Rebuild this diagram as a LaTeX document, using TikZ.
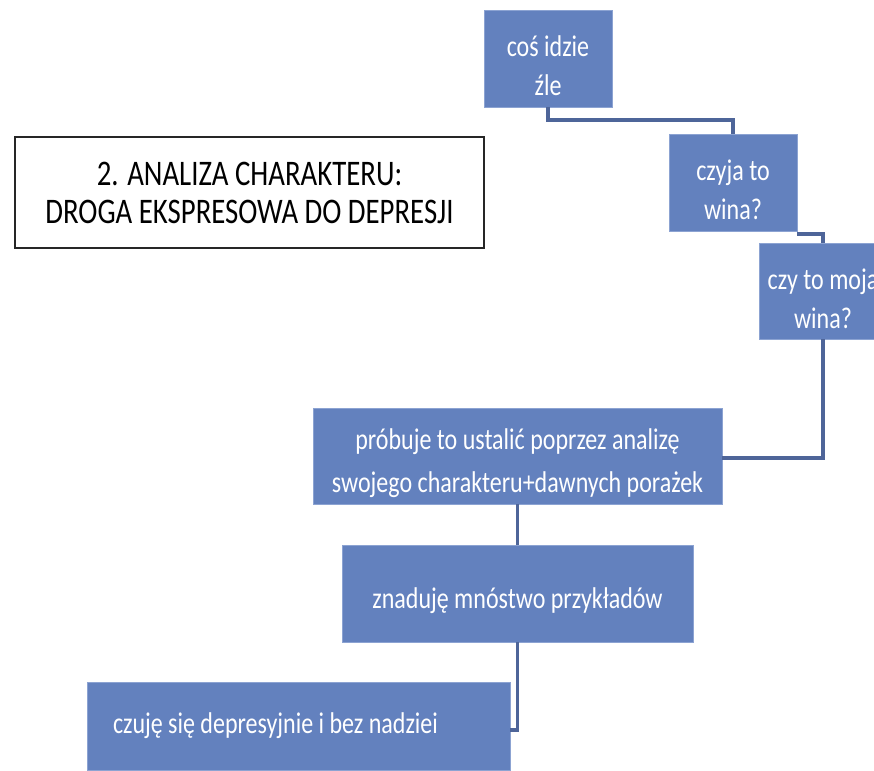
\documentclass[tikz,border=0pt]{standalone}
\usepackage{fontspec}
\newfontfamily\handfont[FakeStretch=0.8]{Carlito}
\definecolor{boxblue}{HTML}{6381BE}
\definecolor{boxedge}{HTML}{8CA3D2}
\definecolor{linkblue}{HTML}{4E6599}
% taller first line: sets a step's text a little below the box centre
\newcommand\lowerstrut{\rule{0pt}{36pt}}
\tikzset{
  stepbox/.style={rectangle, fill=boxblue, draw=boxedge, line width=0.8pt,
    inner sep=0pt, outer sep=0pt, text=white, align=center,
    font=\handfont\fontsize{30}{39}\selectfont},
  titlebox/.style={rectangle, draw=black!85, line width=1.4pt, fill=white,
    inner sep=0pt, outer sep=0pt, align=center,
    font=\handfont\fontsize{36}{38}\selectfont},
  link/.style={draw=linkblue, line width=3.6pt}
}
\begin{document}
\begin{tikzpicture}[x=1pt, y=-1pt]
  \useasboundingbox (0,0) rectangle (874,770);
  \clip (0,0) rectangle (874,770);

  % title
  \node[titlebox, minimum width=469, minimum height=111] (title) at (249.5,192.5)
    {2. ANALIZA CHARAKTERU:\\DROGA EKSPRESOWA DO DEPRESJI};

  % chain of steps
  \node[stepbox, minimum width=128, minimum height=97] (s1) at (548,58.5)
    {\lowerstrut coś idzie\\źle};
  \node[stepbox, minimum width=128, minimum height=97] (s2) at (733,182.5)
    {\lowerstrut czyja to\\wina?};
  \node[stepbox, minimum width=128, minimum height=96] (s3) at (823,291)
    {\lowerstrut czy to moja\\wina?};
  \node[stepbox, minimum width=409, minimum height=96,
        font=\handfont\fontsize{30}{43}\selectfont] (s4) at (517.5,456)
    {\lowerstrut próbuje to ustalić poprzez analizę\\swojego charakteru+dawnych porażek};
  \node[stepbox, minimum width=351, minimum height=97] (s5) at (517.5,593.5)
    {\lowerstrut znaduję mnóstwo przykładów};
  \node[stepbox, minimum width=423, minimum height=88] (s6) at (298.5,726)
    {\makebox[371pt][l]{czuję się depresyjnie i bez nadziei}};

  % connectors
  \draw[link] (s1.south) -- ++(0,13) -| (s2.north);
  \draw[link] ([yshift=-3pt]s2.south east) -| (s3.north);
  \draw[link] (s3.south) |- ([yshift=-2pt]s4.east);
  \draw[link] (s4.south) -- (s5.north);
  \draw[link] (s5.south) |- ([yshift=-4pt]s6.east);
\end{tikzpicture}
\end{document}
